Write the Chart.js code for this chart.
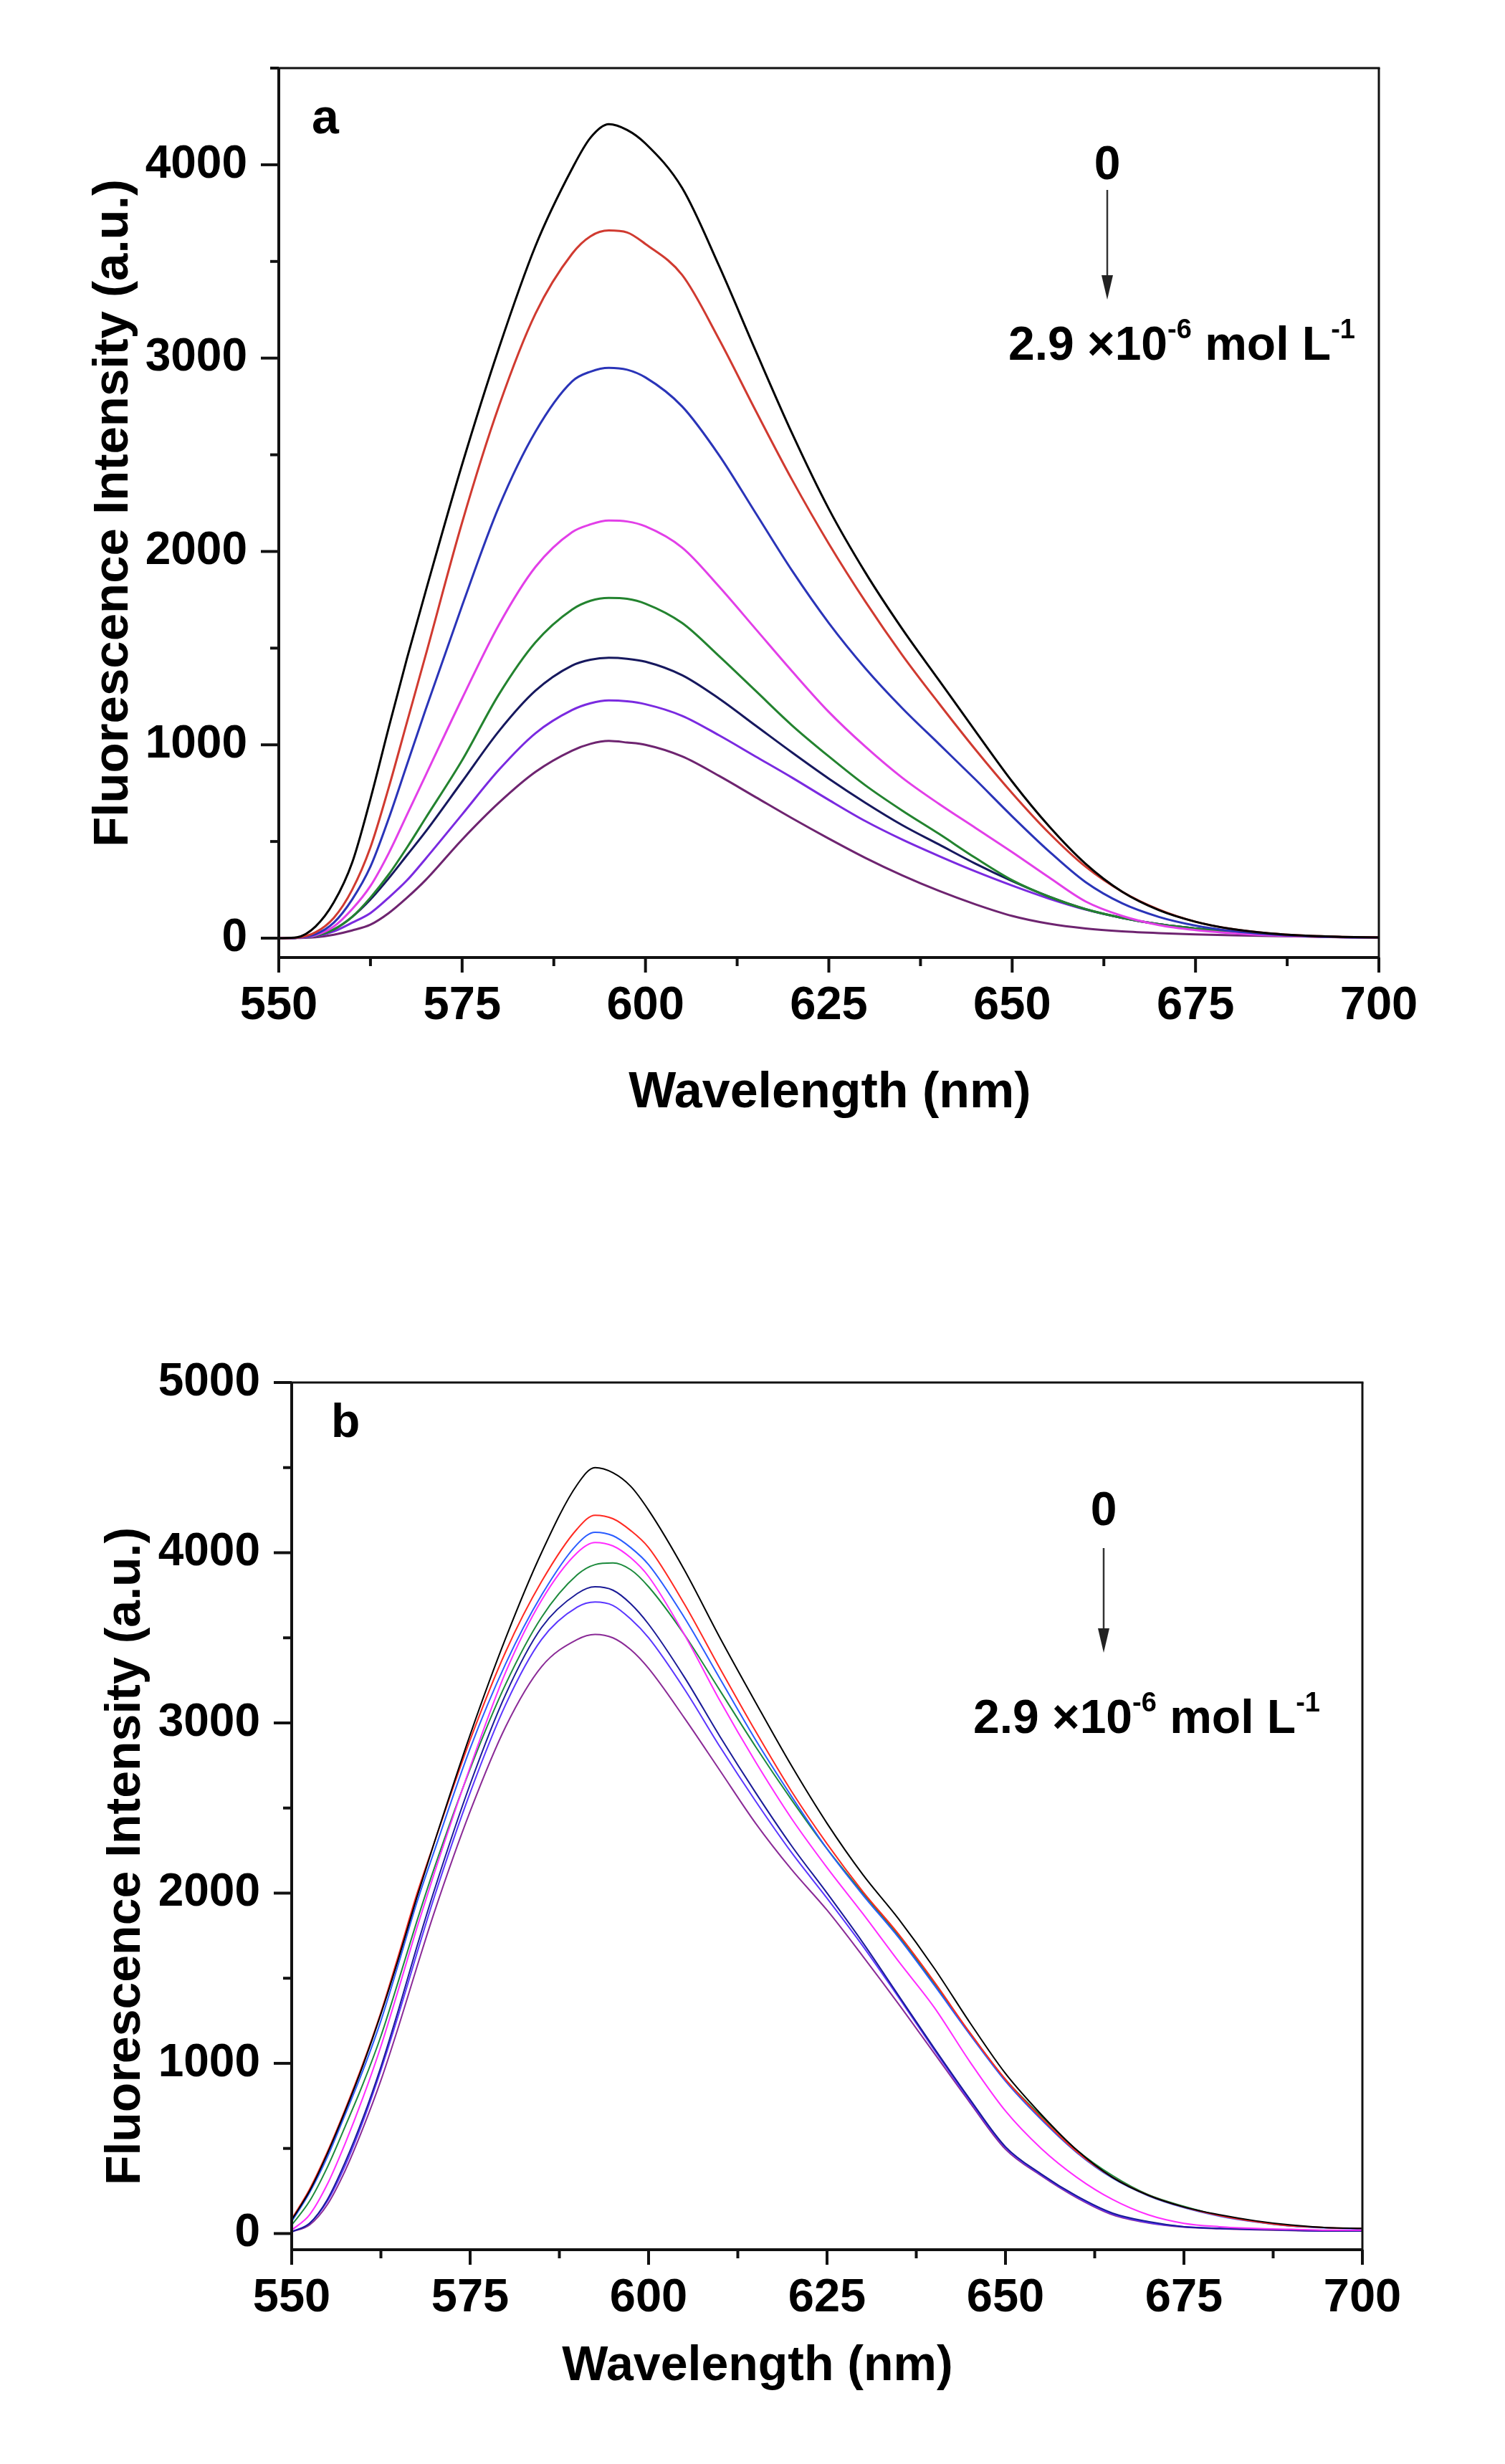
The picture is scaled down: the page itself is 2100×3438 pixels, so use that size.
<!DOCTYPE html>
<html>
<head>
<meta charset="utf-8">
<script src="https://cdn.jsdelivr.net/npm/chart.js@4.4.1/dist/chart.umd.min.js"></script>
<style>
  html, body { margin: 0; padding: 0; background: #fff; }
  #wrap { position: relative; width: 2100px; height: 3438px; background: #fff; }
  canvas { position: absolute; left: 0; }
  #chartA { top: 0; }
  #chartB { top: 1720px; }
</style>
</head>
<body>
<div id="wrap">
  <canvas id="chartA" width="2100" height="1720"></canvas>
  <canvas id="chartB" width="2100" height="1718"></canvas>
</div>
<script>
// wavelength grid (nm), shared by both panels
const wavelengths = [550, 552.5, 555, 557.5, 560, 562.5, 565, 567.5, 570, 575, 580, 585, 590, 592.5, 595, 597.5,
  600, 605, 610, 615, 620, 625, 630, 635, 640, 645, 650, 655, 660, 665, 670, 675, 680, 685, 690, 695, 700];

const xTicks = [550, 575, 600, 625, 650, 675, 700];

// panel a
const aBlack   = [0, 5, 60, 185, 390, 720, 1090, 1450, 1790, 2450, 3050, 3580, 3980, 4140, 4210, 4180,
  4110, 3880, 3480, 3040, 2610, 2220, 1890, 1600, 1335, 1070, 810, 580, 385, 240, 145, 85, 47, 25, 13, 7, 4];
const aRed     = [0, 3, 30, 105, 250, 470, 780, 1120, 1460, 2150, 2750, 3230, 3540, 3630, 3660, 3650,
  3590, 3430, 3100, 2730, 2370, 2040, 1740, 1465, 1215, 975, 750, 545, 370, 240, 148, 85, 47, 25, 13, 7, 4];
const aBlue    = [0, 2, 20, 80, 200, 370, 620, 900, 1180, 1720, 2230, 2620, 2880, 2930, 2950, 2940,
  2900, 2750, 2500, 2200, 1900, 1630, 1395, 1190, 1005, 820, 630, 450, 290, 180, 110, 65, 37, 20, 10, 5, 3];
const aMagenta = [0, 2, 15, 60, 150, 270, 440, 640, 840, 1240, 1620, 1920, 2100, 2140, 2160, 2155,
  2130, 2020, 1820, 1600, 1380, 1170, 990, 830, 695, 570, 445, 315, 190, 115, 68, 42, 26, 15, 9, 5, 3];
const aGreen   = [0, 2, 12, 45, 110, 210, 330, 470, 620, 920, 1260, 1530, 1700, 1745, 1760, 1755,
  1730, 1630, 1460, 1280, 1100, 940, 790, 660, 540, 415, 300, 215, 150, 105, 72, 50, 33, 20, 11, 6, 3];
const aNavy    = [0, 2, 12, 45, 110, 200, 310, 430, 550, 810, 1070, 1280, 1410, 1440, 1450, 1445,
  1430, 1360, 1240, 1100, 960, 825, 700, 585, 485, 385, 295, 215, 150, 105, 72, 50, 33, 20, 11, 6, 3];
const aViolet  = [0, 2, 10, 35, 80, 130, 210, 300, 410, 640, 870, 1060, 1180, 1215, 1230, 1225,
  1210, 1150, 1050, 940, 830, 715, 605, 510, 425, 345, 272, 205, 148, 105, 72, 50, 33, 20, 11, 6, 3];
const aPurple  = [0, 1, 5, 18, 40, 70, 130, 210, 300, 510, 700, 860, 970, 1005, 1020, 1012,
  1000, 940, 840, 730, 620, 515, 415, 325, 245, 175, 115, 75, 50, 35, 26, 20, 15, 11, 8, 5, 3];

// panel b
const bBlack   = [80, 250, 470, 720, 990, 1290, 1620, 1970, 2300, 2930, 3500, 4000, 4400, 4500, 4470, 4390,
  4250, 3900, 3500, 3120, 2750, 2410, 2110, 1850, 1560, 1240, 940, 700, 490, 330, 225, 156, 110, 75, 50, 35, 30];
const bRed     = [85, 260, 480, 730, 1000, 1300, 1640, 1990, 2300, 2900, 3420, 3830, 4140, 4220, 4200, 4130,
  4030, 3700, 3320, 2950, 2600, 2290, 2010, 1760, 1480, 1180, 905, 680, 480, 330, 225, 155, 105, 70, 45, 35, 30];
const bBlue    = [70, 240, 450, 700, 960, 1250, 1590, 1940, 2250, 2850, 3350, 3750, 4050, 4120, 4100, 4030,
  3930, 3620, 3260, 2900, 2570, 2260, 1990, 1740, 1460, 1170, 895, 670, 475, 325, 222, 152, 102, 68, 44, 33, 28];
const bMagenta = [20, 110, 290, 530, 800, 1100, 1440, 1790, 2120, 2740, 3300, 3720, 4000, 4060, 4040, 3970,
  3860, 3520, 3130, 2770, 2440, 2150, 1880, 1600, 1330, 1010, 720, 500, 330, 200, 110, 60, 40, 30, 25, 20, 20];
const bGreen   = [50, 190, 390, 630, 880, 1160, 1490, 1830, 2150, 2730, 3230, 3620, 3870, 3930, 3940, 3900,
  3800, 3520, 3190, 2860, 2550, 2260, 2000, 1750, 1470, 1180, 905, 690, 490, 340, 228, 160, 106, 70, 45, 35, 30];
const bNavy    = [10, 60, 200, 420, 680, 980, 1320, 1680, 2020, 2640, 3170, 3560, 3760, 3800, 3780, 3700,
  3580, 3270, 2920, 2590, 2280, 2000, 1710, 1400, 1090, 790, 510, 350, 220, 120, 70, 40, 30, 25, 20, 15, 15];
const bViolet  = [10, 60, 190, 400, 660, 960, 1290, 1640, 1980, 2590, 3110, 3490, 3680, 3710, 3690, 3610,
  3500, 3200, 2860, 2540, 2240, 1970, 1690, 1390, 1080, 780, 505, 345, 215, 115, 65, 40, 30, 25, 20, 15, 15];
const bPurple  = [10, 50, 170, 370, 620, 900, 1220, 1560, 1890, 2480, 2980, 3330, 3490, 3520, 3500, 3430,
  3320, 3030, 2720, 2410, 2140, 1900, 1630, 1350, 1060, 770, 495, 340, 210, 110, 62, 38, 28, 22, 18, 15, 15];

const aYTicks = [0, 1000, 2000, 3000, 4000];
const bYTicks = [0, 1000, 2000, 3000, 4000, 5000];

const FONT = '"Liberation Sans", Arial, sans-serif';

// frame, ticks, titles and annotation
const decor = {
  id: 'decor',
  afterDraw(chart, args, o) {
    const { ctx, chartArea: a, scales: { x, y } } = chart;
    ctx.save();
    ctx.strokeStyle = '#111';
    ctx.fillStyle = '#000';
    const seg = (x1, y1, x2, y2, w) => {
      ctx.lineWidth = w;
      ctx.beginPath(); ctx.moveTo(x1, y1); ctx.lineTo(x2, y2); ctx.stroke();
    };
    // x ticks (major 25, minor 12.5)
    for (let v = x.min; v <= x.max + 0.01; v += 12.5) {
      const px = x.getPixelForValue(v);
      seg(px, a.bottom, px, a.bottom + (v % 25 === 0 ? 21 : 12), 4);
    }
    // y ticks (major 1000, minor 500)
    for (let v = 0; v <= y.max + 0.01; v += 500) {
      const py = y.getPixelForValue(v);
      seg(a.left, py, a.left - (v % 1000 === 0 ? 25 : 12), py, 4);
    }
    // box
    seg(a.left, a.top, a.right + 1.5, a.top, 3);
    seg(a.right, a.top, a.right, a.bottom, 3);
    seg(a.left, a.top - 1, a.left, a.bottom + 2, 4);
    seg(a.left - 2, a.bottom, a.right, a.bottom, 4);

    // axis titles
    ctx.textAlign = 'center';
    ctx.textBaseline = 'middle';
    ctx.font = `bold ${o.xTitleSize}px ${FONT}`;
    ctx.fillText('Wavelength (nm)', o.xTitle[0], o.xTitle[1]);
    ctx.save();
    ctx.translate(o.yTitle[0], o.yTitle[1]);
    ctx.rotate(-Math.PI / 2);
    ctx.font = `bold ${o.yTitleSize}px ${FONT}`;
    ctx.fillText('Fluorescence Intensity (a.u.)', 0, 0);
    ctx.restore();

    // panel letter
    ctx.textAlign = 'left';
    ctx.textBaseline = 'alphabetic';
    ctx.font = `bold ${o.panelSize}px ${FONT}`;
    ctx.fillText(o.panel, o.panelPos[0], o.panelPos[1]);

    // "0" -> arrow -> final concentration
    ctx.textAlign = 'center';
    ctx.font = `bold ${o.annSize}px ${FONT}`;
    ctx.fillText('0', o.arrowX, o.zeroY);
    ctx.strokeStyle = '#333';
    seg(o.arrowX, o.arrow[0], o.arrowX, o.arrow[1] - 20, 2.5);
    ctx.fillStyle = '#222';
    ctx.beginPath();
    ctx.moveTo(o.arrowX - 8, o.arrow[1] - 34);
    ctx.lineTo(o.arrowX + 8, o.arrow[1] - 34);
    ctx.lineTo(o.arrowX, o.arrow[1]);
    ctx.closePath();
    ctx.fill();

    ctx.fillStyle = '#000';
    ctx.textAlign = 'left';
    const big = `bold ${o.annSize}px ${FONT}`;
    const small = `bold ${Math.round(o.annSize * 0.58)}px ${FONT}`;
    const parts = [['2.9 \u00d710', big, 0], ['-6', small, -0.45], [' mol L', big, 0], ['-1', small, -0.45]];
    let tx = o.conc[0];
    for (const [t, f, dy] of parts) {
      ctx.font = f;
      ctx.fillText(t, tx, o.conc[1] + dy * o.annSize);
      tx += ctx.measureText(t).width;
    }
    ctx.restore();
  }
};

function makeChart(id, series, colors, lineWidth, yMin, yMax, yTicks, box, decorOpts) {
  const canvas = document.getElementById(id);
  const W = canvas.width, H = canvas.height;
  return new Chart(canvas.getContext('2d'), {
    type: 'line',
    data: {
      datasets: series.map((vals, i) => ({
        data: wavelengths.map((w, j) => ({ x: w, y: vals[j] })),
        borderColor: colors[i],
        borderWidth: lineWidth,
        pointRadius: 0,
        fill: false,
        cubicInterpolationMode: 'monotone'
      }))
    },
    options: {
      responsive: false,
      animation: false,
      devicePixelRatio: 1,
      layout: { padding: { left: 0, top: box.top, right: W - box.right, bottom: 0 } },
      plugins: { legend: { display: false }, tooltip: { enabled: false }, decor: decorOpts },
      scales: {
        x: {
          type: 'linear',
          min: 550,
          max: 700,
          afterBuildTicks: s => { s.ticks = xTicks.map(v => ({ value: v })); },
          afterFit: s => { s.height = H - box.bottom; },
          grid: { display: false, drawTicks: true, tickLength: 21 },
          border: { display: false },
          ticks: { color: '#000', padding: 8, maxRotation: 0, callback: v => String(v),
                   font: { family: FONT, size: 65, weight: 'bold' } }
        },
        y: {
          type: 'linear',
          min: yMin,
          max: yMax,
          afterBuildTicks: s => { s.ticks = yTicks.map(v => ({ value: v })); },
          afterFit: s => { s.width = box.left; },
          grid: { display: false, drawTicks: true, tickLength: 25 },
          border: { display: false },
          ticks: { color: '#000', padding: 19, callback: v => String(v),
                   font: { family: FONT, size: 64, weight: 'bold' } }
        }
      }
    },
    plugins: [decor]
  });
}

makeChart('chartA',
  [aBlack, aRed, aBlue, aMagenta, aGreen, aNavy, aViolet, aPurple],
  ['#000000', '#d03a30', '#2a34b8', '#e23fe8', '#23832f', '#16185e', '#7a2ae0', '#6e2470'],
  3, -100, 4500, aYTicks,
  { left: 389, top: 95, right: 1924, bottom: 1336 },
  { xTitle: [1158, 1526], xTitleSize: 70, yTitle: [159, 716], yTitleSize: 69,
    panel: 'a', panelPos: [435, 186], panelSize: 68,
    arrowX: 1545, zeroY: 250, arrow: [265, 418], annSize: 66, conc: [1407, 502] });

makeChart('chartB',
  [bBlack, bRed, bBlue, bMagenta, bGreen, bNavy, bViolet, bPurple],
  ['#000000', '#ff2a22', '#2a5cff', '#ff2cff', '#1c8a3c', '#1a1a96', '#5a36ff', '#8a2a96'],
  2, -95, 5000, bYTicks,
  { left: 407, top: 209, right: 1901, bottom: 1419 },
  { xTitle: [1057, 1582], xTitleSize: 68, yTitle: [176, 870], yTitleSize: 68,
    panel: 'b', panelPos: [462, 285], panelSize: 66,
    arrowX: 1540, zeroY: 408, arrow: [440, 586], annSize: 66, conc: [1358, 698] });
</script>
</body>
</html>
